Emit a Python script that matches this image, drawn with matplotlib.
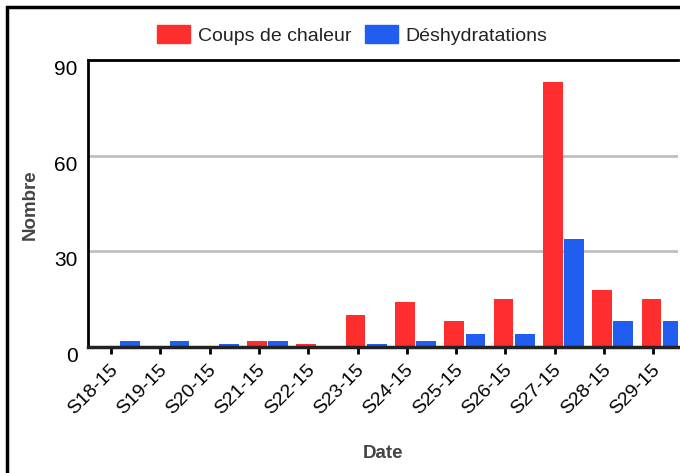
import matplotlib
matplotlib.use("Agg")
import matplotlib.pyplot as plt
import matplotlib.transforms as mtrans
from matplotlib.patches import Rectangle, Patch
import numpy as np

plt.rcParams['font.family'] = ['Liberation Sans', 'DejaVu Sans']

weeks = ["S18-15", "S19-15", "S20-15", "S21-15", "S22-15", "S23-15",
         "S24-15", "S25-15", "S26-15", "S27-15", "S28-15", "S29-15"]
coups_chaleur = [0, 0, 0, 2, 1, 10, 14, 8, 15, 83, 18, 15]
deshydratations = [2, 2, 1, 2, 0, 1, 2, 4, 4, 34, 8, 8]
yticks = [0, 30, 60, 90]

RED = '#FF2E2E'
BLUE = '#1F5EF0'

fig = plt.figure(figsize=(6.8, 4.73), dpi=100)
W, H = 680, 473
ax = fig.add_axes([88 / W, 1 - 347 / H, (678 - 88) / W, (347 - 60) / H])

x = np.arange(len(weeks))
bw = 0.40
ax.bar(x - 0.04, coups_chaleur, width=bw, color=RED, zorder=3)
ax.bar(x + 0.39, deshydratations, width=bw, color=BLUE, zorder=3)

ax.set_xlim(-0.467, 11.5)
ax.set_ylim(0, 90)

ax.set_yticks(yticks)
ax.set_yticklabels([str(v) for v in yticks], fontsize=15)
ax.tick_params(axis='y', length=0, pad=7.5)
for lab in ax.get_yticklabels():
    lab.set_va('top')

ax.set_xticks(x)
ax.set_xticklabels(weeks, rotation=45, ha='right', fontsize=14)
ax.tick_params(axis='x', length=5, width=2, color='black', pad=5)
off = mtrans.ScaledTranslation(10 / 100, 0, fig.dpi_scale_trans)
for lab in ax.get_xticklabels():
    lab.set_transform(lab.get_transform() + off)

ax.yaxis.grid(True, color='#c0c0c0', lw=2, zorder=0)
ax.set_axisbelow(True)
ax.spines['right'].set_visible(False)
ax.spines['top'].set_linewidth(2)
ax.spines['left'].set_linewidth(2)
ax.spines['bottom'].set_linewidth(2.5)
ax.spines['bottom'].set_color('#222222')
ax.spines['bottom'].set_zorder(4)

fig.text(30 / W, 1 - 205 / H, "Nombre", rotation=90, ha='center', va='center',
         fontsize=13.5, fontweight='bold', color='#444444')
fig.text(383 / W, 1 - 453 / H, "Date", ha='center', va='center',
         fontsize=13.5, fontweight='bold', color='#444444')

handles = [Patch(color=RED), Patch(color=BLUE)]
leg = fig.legend(handles, ["Coups de chaleur", "Déshydratations"], loc='center',
                 bbox_to_anchor=(352 / W, 1 - 35 / H), ncol=2, frameon=False,
                 fontsize=14, handlelength=1.7, handleheight=1.05,
                 handletextpad=0.4, columnspacing=0.7)
for t in leg.get_texts():
    t.set_color('#222222')

fig.add_artist(Rectangle((7 / W, -0.1), 1.2, 1 - 7 / H + 0.1, transform=fig.transFigure,
                         fill=False, edgecolor='black', lw=2.5))

fig.savefig("out.png", dpi=100)
